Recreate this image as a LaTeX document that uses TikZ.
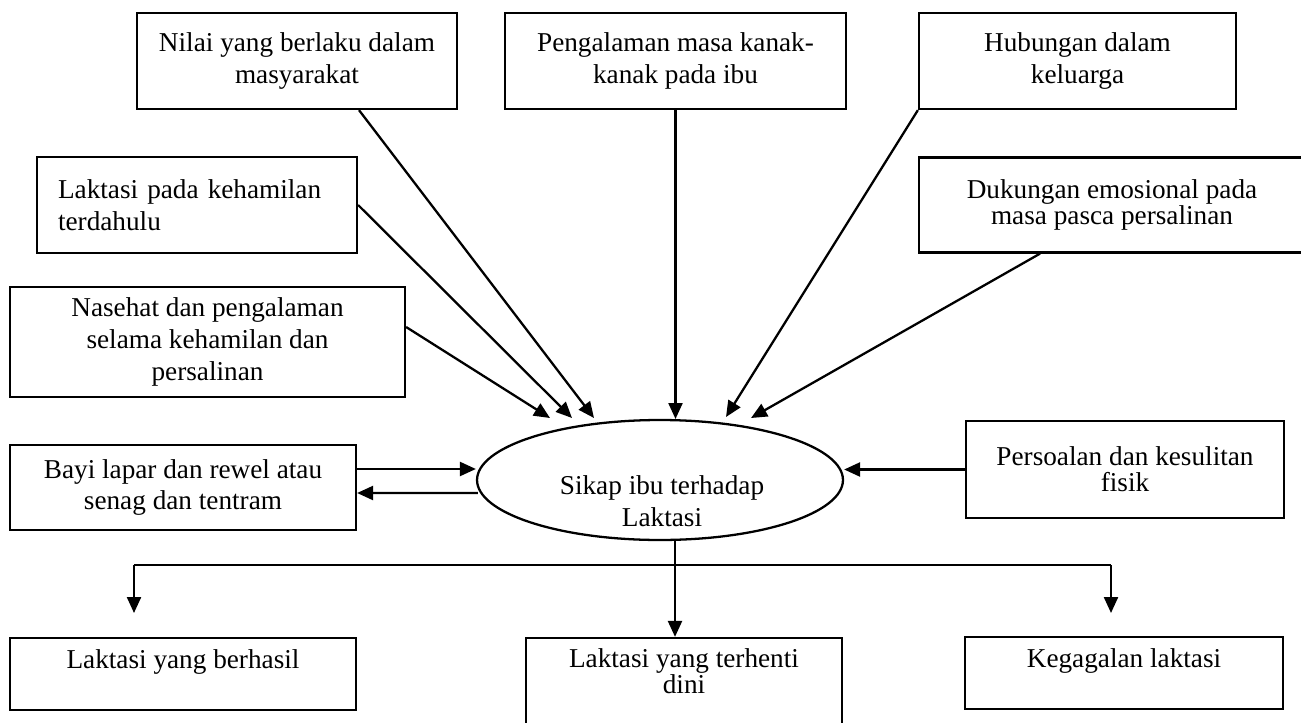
\documentclass[tikz,border=0pt]{standalone}
\usepackage{fontspec}
\setmainfont{Liberation Serif}
\usetikzlibrary{arrows.meta,positioning,shapes,calc}

\begin{document}
\begin{tikzpicture}[
  x=0.02cm, y=-0.02cm,
  box/.style={draw, line width=1.3pt, rectangle, align=center, inner sep=0pt,
    font=\fontsize{15.5}{18}\selectfont},
  txt/.style={align=center, inner sep=0pt, font=\fontsize{15.5}{18}\selectfont},
  tight/.style={font=\fontsize{15.5}{14.6}\selectfont},
  oval/.style={draw, line width=1.3pt, ellipse, minimum width=7.32cm, minimum height=2.4cm, inner sep=0pt},
  arr/.style={-{Triangle[length=0.32cm,width=0.28cm]}, line width=1.3pt},
  lne/.style={line width=1.3pt},
]
\useasboundingbox (0,0) rectangle (1301,723);

% top row of influences
\node[box, minimum width=6.4cm, minimum height=1.92cm] (nilai) at (297,61)
  {Nilai yang berlaku dalam\\masyarakat};
\node[box, minimum width=6.82cm, minimum height=1.92cm] (kanak) at (675.5,61)
  {Pengalaman masa kanak-\\kanak pada ibu};
\node[box, minimum width=6.34cm, minimum height=1.92cm] (keluarga) at (1077.5,61)
  {Hubungan dalam\\keluarga};

\node[box, align=left, text width=5.56cm, inner xsep=0.42cm, minimum height=1.92cm] (hamil) at (197,205)
  {Laktasi pada kehamilan\\terdahulu};
\node[box, tight, minimum width=7.72cm, minimum height=1.9cm] (emosi) at (1112,205)
  {Dukungan emosional pada\\masa pasca persalinan};
\node[box, minimum width=7.9cm, minimum height=2.2cm] (nasehat) at (207.5,342)
  {Nasehat dan pengalaman\\selama kehamilan dan\\persalinan};

% centre
\node[oval] (sikap) at (660,480) {};
\node[txt] (sikaplbl) at (662,501) {Sikap ibu terhadap\\Laktasi};
\node[box, minimum width=6.92cm, minimum height=1.7cm] (bayi) at (183,487.5)
  {Bayi lapar dan rewel atau\\senag dan tentram};
\node[box, tight, minimum width=6.36cm, minimum height=1.94cm] (persoalan) at (1125,469.5)
  {Persoalan dan kesulitan\\fisik};

% outcomes
\node[box, text depth=0.6cm, minimum width=6.92cm, minimum height=1.44cm] (berhasil) at (183,674)
  {Laktasi yang berhasil};
\node[box, minimum width=6.32cm, minimum height=2.04cm] (terhenti) at (684,689) {};
\node[txt, tight] (terhentilbl) at (684,671.5) {Laktasi yang terhenti\\dini};
\node[box, text depth=0.6cm, minimum width=6.36cm, minimum height=1.44cm] (gagal) at (1124,673)
  {Kegagalan laktasi};

\coordinate (inF) at (550,418);
\coordinate (inD) at (572,418);
\coordinate (inA) at (594,418);
\coordinate (inB) at (675.5,419);
\coordinate (inC) at (726,417);
\coordinate (inE) at (751,418);

\draw[arr] ($(nasehat.east)+(0,-15)$) -- (inF);
\draw[arr] (hamil.east) -- (inD);
\draw[arr] ($(nilai.south)+(62,0)$) -- (inA);
\draw[arr] (kanak.south) -- (inB);
\draw[arr] (keluarga.south west) -- (inC);
\draw[arr] ($(emosi.south)+(-72,0)$) -- (inE);

\draw[arr] ($(bayi.east)+(0,-18.5)$) -- ($(sikap.west)+(0,-11)$);
\draw[arr] ($(sikap.west)+(2,13)$) -- ($(bayi.east)+(0,5.5)$);
\draw[arr] (persoalan.west) -- (persoalan.west -| sikap.east);

% branching to outcomes
\coordinate (fork) at (675,565);
\coordinate (brL) at (134,565);
\coordinate (brR) at (1111,565);
\coordinate (outL) at (134,613);
\coordinate (outR) at (1111,613);
\draw[lne] (brL) -- (brR);
\draw[arr] (brL) -- (outL);
\draw[arr] (brR) -- (outR);
\draw[arr] (sikap.south -| fork) -- (terhenti.north -| fork);
\end{tikzpicture}
\end{document}
